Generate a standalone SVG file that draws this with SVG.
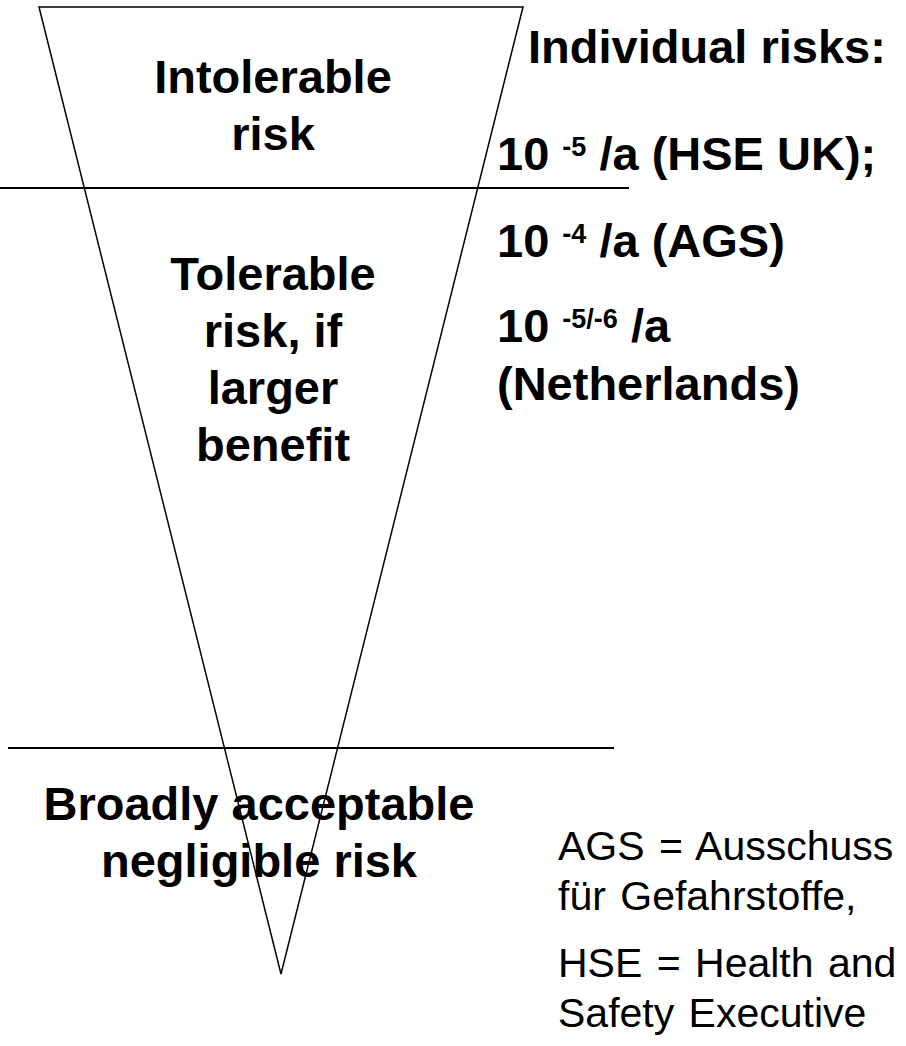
<svg xmlns="http://www.w3.org/2000/svg" width="906" height="1046" viewBox="0 0 906 1046">
<style>
.b{font-family:"Liberation Sans",Arial,sans-serif;font-weight:bold;font-size:47px;fill:#000}
.c{text-anchor:middle}
.s{font-size:27px}
.r{font-family:"Liberation Sans",Arial,sans-serif;font-size:41px;fill:#000;word-spacing:3px}
.tri{fill:none;stroke:#000;stroke-width:1.5}
.hl{stroke:#000;stroke-width:2}
</style>
<rect width="906" height="1046" fill="#fff"/>
<g id="triangle">
<polygon class="tri" points="39,7 523,7 281,974"/>
</g>
<g id="connectors">
<line class="hl" x1="0" y1="188" x2="629" y2="188"/>
<line class="hl" x1="8" y1="748" x2="614" y2="748"/>
</g>
<g id="intolerable">
<text class="b c" x="273" y="93">Intolerable</text>
<text class="b c" x="273" y="150">risk</text>
</g>
<g id="tolerable">
<text class="b c" x="273" y="290">Tolerable</text>
<text class="b c" x="273" y="347">risk, if</text>
<text class="b c" x="273" y="404">larger</text>
<text class="b c" x="273" y="461">benefit</text>
</g>
<g id="acceptable">
<text class="b c" x="259" y="820">Broadly acceptable</text>
<text class="b c" x="259" y="877">negligible risk</text>
</g>
<g id="individual-risks">
<text class="b" x="528" y="63">Individual risks:</text>
<text class="b" x="497" y="170">10 <tspan class="s" dy="-14">-5</tspan><tspan dy="14"> /a (HSE UK);</tspan></text>
<text class="b" x="497" y="257">10 <tspan class="s" dy="-14">-4</tspan><tspan dy="14"> /a (AGS)</tspan></text>
<text class="b" x="497" y="342">10 <tspan class="s" dy="-14">-5/-6</tspan><tspan dy="14"> /a</tspan></text>
<text class="b" x="497" y="400">(Netherlands)</text>
</g>
<g id="footnote">
<text class="r" x="558" y="860">AGS = Ausschuss</text>
<text class="r" x="558" y="910">für Gefahrstoffe,</text>
<text class="r" x="558" y="977">HSE = Health and</text>
<text class="r" x="558" y="1027">Safety Executive</text>
</g>
</svg>
